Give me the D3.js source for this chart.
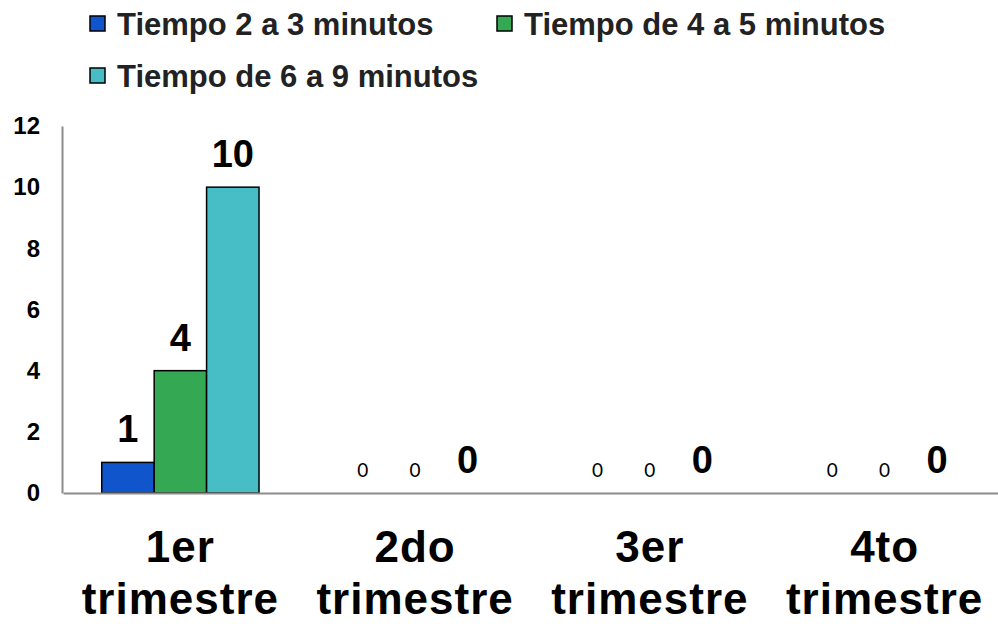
<!DOCTYPE html>
<html>
<head>
<meta charset="utf-8">
<script src="https://cdn.jsdelivr.net/npm/d3@7"></script>
<style>
  html, body { margin: 0; padding: 0; background: #fff; }
  svg { display: block; }
</style>
</head>
<body>
<svg id="chart" width="998" height="624"></svg>
<script>
// Quarters and the three waiting-time groups
const categories = ["1er trimestre", "2do trimestre", "3er trimestre", "4to trimestre"];
const seriesNames = ["Tiempo 2 a 3 minutos", "Tiempo de 4 a 5 minutos", "Tiempo de 6 a 9 minutos"];
const seriesColors = ["#1155cc", "#34a853", "#47bdc6"];
const values2a3 = [1, 0, 0, 0];
const values4a5 = [4, 0, 0, 0];
const values6a9 = [10, 0, 0, 0];
const yTicks = [0, 2, 4, 6, 8, 10, 12];

const seriesValues = [values2a3, values4a5, values6a9];

const svg = d3.select("#chart");
const fontMain = "'Liberation Sans', Arial, sans-serif";

const x0 = d3.scaleBand()
  .domain(categories)
  .range([63, 1002])
  .paddingInner(0.33)
  .paddingOuter(0.165);

const x1 = d3.scaleBand()
  .domain(d3.range(seriesNames.length))
  .range([0, x0.bandwidth()])
  .padding(0);

const y = d3.scaleLinear().domain([0, 12]).range([493, 126]);

// Y axis
const yAxis = svg.append("g")
  .attr("transform", "translate(62,0)")
  .call(d3.axisLeft(y).tickValues(yTicks).tickSize(0).tickPadding(22).tickFormat(d3.format("d")));
yAxis.select(".domain").attr("stroke", "#8c8c8c").attr("stroke-width", 2);
yAxis.selectAll("text")
  .attr("font-family", fontMain)
  .attr("font-weight", "bold")
  .attr("font-size", 24)
  .attr("fill", "#000");

// Bars
const groups = svg.append("g").selectAll("g")
  .data(categories)
  .join("g")
  .attr("transform", d => `translate(${x0(d)},0)`);

groups.selectAll("rect")
  .data((c, ci) => seriesValues.map((vals, si) => ({ si, v: vals[ci] })))
  .join("rect")
  .filter(d => d.v > 0)
  .attr("x", d => x1(d.si))
  .attr("y", d => y(d.v))
  .attr("width", x1.bandwidth())
  .attr("height", d => y(0) - y(d.v))
  .attr("fill", d => seriesColors[d.si])
  .attr("stroke", "#000")
  .attr("stroke-width", 1.5);

// X axis (drawn over bar bottoms)
const xAxis = svg.append("g")
  .attr("transform", "translate(0,493)")
  .call(d3.axisBottom(x0).tickSize(0).tickSizeOuter(0));
xAxis.select(".domain").attr("stroke", "#8c8c8c").attr("stroke-width", 2);
xAxis.selectAll("text").each(function(d) {
  const t = d3.select(this);
  const parts = d.split(" ");
  t.text(null)
    .attr("y", null).attr("dy", null)
    .attr("font-family", fontMain)
    .attr("font-weight", "bold")
    .attr("font-size", 44)
    .attr("letter-spacing", 1)
    .attr("fill", "#000")
    .attr("text-anchor", "middle");
  t.append("tspan").attr("x", 0).attr("y", 69).text(parts[0]);
  t.append("tspan").attr("x", 0).attr("y", 121).text(parts[1]);
});

// Data labels: non-zero values and the 6-9 minute series in large bold type
groups.selectAll("text.lbl")
  .data((c, ci) => seriesValues.map((vals, si) => ({ si, v: vals[ci] })))
  .join("text")
  .attr("class", "lbl")
  .attr("text-anchor", "middle")
  .attr("x", d => x1(d.si) + x1.bandwidth() / 2)
  .each(function(d) {
    const big = d.v > 0 || d.si === 2;
    d3.select(this)
      .attr("y", big ? y(d.v) - 20 : y(d.v) - 16)
      .attr("font-family", big ? fontMain : "Lato, 'Open Sans', sans-serif")
      .attr("font-weight", big ? "bold" : "normal")
      .attr("font-size", big ? 38 : 19)
      .attr("fill", "#000")
      .text(d.v);
  });

// Legend
const legendItems = [
  { i: 0, x: 90, y: 16 },
  { i: 1, x: 497, y: 16 },
  { i: 2, x: 90, y: 68 }
];
const legend = svg.append("g");
legendItems.forEach(li => {
  const g = legend.append("g").attr("transform", `translate(${li.x},${li.y})`);
  g.append("rect")
    .attr("width", 15).attr("height", 15)
    .attr("fill", seriesColors[li.i])
    .attr("stroke", "#000").attr("stroke-width", 1.5);
  g.append("text")
    .attr("x", 27).attr("y", 19)
    .attr("font-family", fontMain)
    .attr("font-weight", "bold")
    .attr("font-size", 31)
    .attr("fill", "#222")
    .text(seriesNames[li.i]);
});
</script>
</body>
</html>
